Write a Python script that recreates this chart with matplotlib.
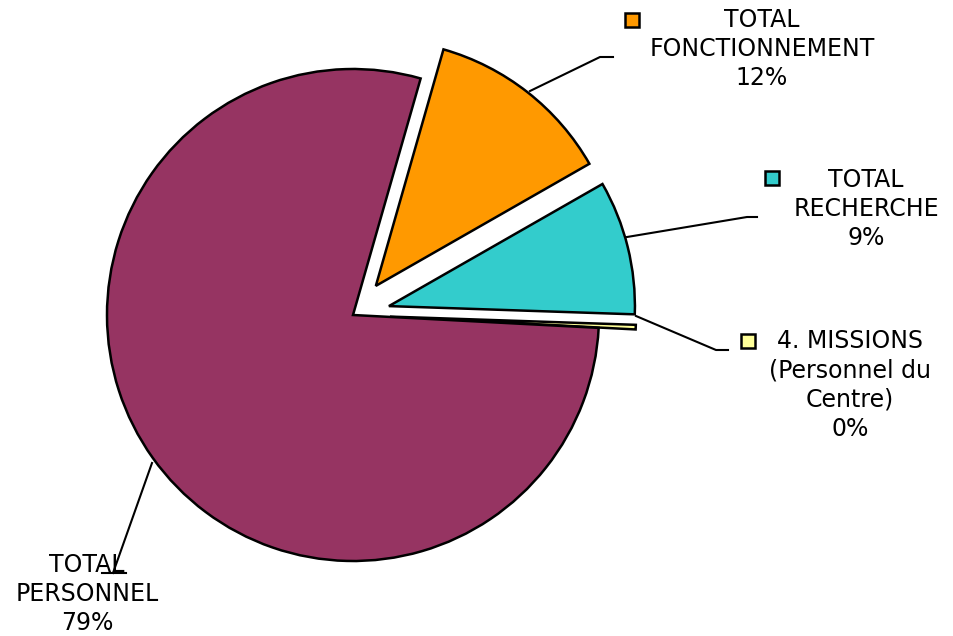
import matplotlib
matplotlib.use("Agg")
import matplotlib.pyplot as plt
from matplotlib.patches import Rectangle

categories = ["4. MISSIONS\n(Personnel du\nCentre)", "TOTAL\nRECHERCHE",
              "TOTAL\nFONCTIONNEMENT", "TOTAL\nPERSONNEL"]
values = [0.3, 8.8, 12.3, 78.6]
colors = ["#FFFF99", "#33CCCC", "#FF9900", "#963462"]
explode = [37, 37, 37, 0]  # offsets in pixels (data units)

W, H = 954, 636
fig = plt.figure(figsize=(W / 100, H / 100), dpi=100)
ax = fig.add_axes([0, 0, 1, 1])

def Y(py):
    return H - py

cx, cy, r = 353, 315, 246
ax.pie(values, colors=colors, explode=explode, startangle=-3.0,
       counterclock=True, center=(cx, Y(cy)), radius=r,
       wedgeprops=dict(edgecolor="black", linewidth=1.8))
ax.set_xlim(0, W)
ax.set_ylim(0, H)
ax.set_aspect("equal")
ax.axis("off")

# label layout: (text centre x, text centre y, key x, key y, leader line pts)
layout = [
    (850, 385, 748, 341, [(636, 316), (716, 350), (728, 350)]),
    (866, 209, 772, 178, [(627, 237), (747, 217), (757, 217)]),
    (762, 49, 632, 20, [(530, 91), (600, 57), (613, 57)]),
    (87, 594, None, None, [(152, 463), (113, 573), (102, 573), (126, 573)]),
]

for cat, v, col, (tx, ty, kx, ky, pts) in zip(categories, values, colors, layout):
    label = f"{cat}\n{int(v + 0.5)}%"
    ax.text(tx, Y(ty), label, ha="center", va="center", fontsize=17,
            family="DejaVu Sans", linespacing=1.27, color="black")
    xs = [p[0] for p in pts]
    ys = [Y(p[1]) for p in pts]
    if len(pts) == 4:
        ax.plot(xs[:2], ys[:2], color="black", lw=1.5)
        ax.plot(xs[2:], ys[2:], color="black", lw=1.5)
    else:
        ax.plot(xs, ys, color="black", lw=1.5)
    if kx is not None:
        s = 14
        ax.add_patch(Rectangle((kx - s / 2, Y(ky) - s / 2), s, s,
                               facecolor=col, edgecolor="black", lw=1.8))

fig.savefig("out.png", dpi=100)
